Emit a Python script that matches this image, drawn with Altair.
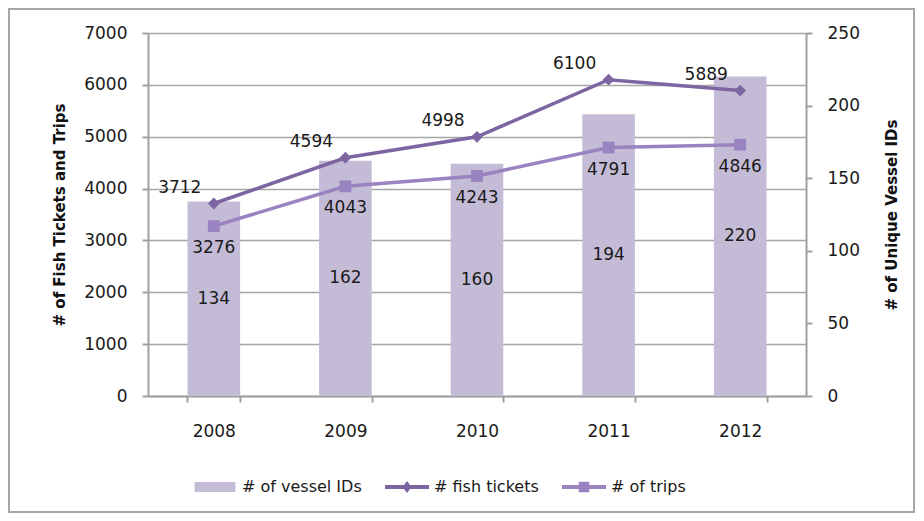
import altair as alt
import pandas as pd

years = ["2008", "2009", "2010", "2011", "2012"]
vessel_ids = [134, 162, 160, 194, 220]
fish_tickets = [3712, 4594, 4998, 6100, 5889]
trips = [3276, 4043, 4243, 4791, 4846]

series_names = ["# of vessel IDs", "# fish tickets", "# of trips"]
series_colors = ["#c4bcd6", "#7d65a1", "#9a83c1"]

FONT = "DejaVu Sans"
W, H = 658, 363

df = pd.DataFrame({
    "year": years,
    "vessels": vessel_ids,
    "tickets": fish_tickets,
    "trips": trips,
})
df["vessels_mid"] = df["vessels"] / 2

x_enc = alt.X("year:N", sort=years, title=None,
              scale=alt.Scale(paddingInner=0.6, paddingOuter=0.3),
              axis=alt.Axis(tickBand="extent", labelAngle=0, labelFontSize=17,
                            labelFont=FONT, labelColor="#1a1a1a", labelPadding=21,
                            domainColor="#a0a0a0", domainWidth=2, tickColor="#a0a0a0",
                            tickWidth=2, tickSize=6, grid=False))

base = alt.Chart(df)

# ---- bars (right axis) ----
bars = base.mark_bar(color=series_colors[0]).encode(
    x=x_enc,
    y=alt.Y("vessels:Q", scale=alt.Scale(domain=[0, 250], nice=False),
            axis=alt.Axis(orient="right", values=[0, 50, 100, 150, 200, 250], grid=False,
                          format="d",
                          title="# of Unique Vessel IDs", titleAngle=270,
                          titleFont=FONT, titleFontSize=15, titleFontWeight="bold",
                          titleColor="#111111", titlePadding=40,
                          labelFont=FONT, labelFontSize=17, labelColor="#1a1a1a",
                          labelPadding=15, domainColor="#a0a0a0", domainWidth=2,
                          tickColor="#a0a0a0", tickWidth=2, tickSize=6)),
)
bar_text = base.mark_text(font=FONT, fontSize=17, color="#1a1a1a").encode(
    x=alt.X("year:N", sort=years),
    y=alt.Y("vessels_mid:Q"),
    text=alt.Text("vessels:Q"),
)
border = alt.Chart(pd.DataFrame({"k": [0]})).mark_rect(
    fillOpacity=0, stroke="#a6a6a6", strokeWidth=2
).encode(
    x=alt.value(-139), x2=alt.value(W + 108),
    y=alt.value(-24), y2=alt.value(H + 116),
)
bar_group = alt.layer(bars, bar_text, border)

# ---- lines (left axis) ----
left_axis = alt.Axis(values=list(range(0, 7001, 1000)), grid=True, format="d",
                     gridColor="#a6a6a6", gridWidth=1.6,
                     title="# of Fish Tickets and Trips", titleAngle=270,
                     titleFont=FONT, titleFontSize=15, titleFontWeight="bold",
                     titleColor="#111111", titlePadding=16,
                     labelFont=FONT, labelFontSize=17, labelColor="#1a1a1a",
                     labelPadding=15, domainColor="#a0a0a0", domainWidth=2,
                     tickColor="#a0a0a0", tickWidth=2, tickSize=6)

fish_line = base.mark_line(color=series_colors[1], strokeWidth=3.5).encode(
    x=alt.X("year:N", sort=years),
    y=alt.Y("tickets:Q", scale=alt.Scale(domain=[0, 7000], nice=False), axis=left_axis),
)
fish_pts = base.mark_point(shape="diamond", filled=True, size=140, opacity=1,
                           color=series_colors[1]).encode(
    x=alt.X("year:N", sort=years), y="tickets:Q")
fish_text = base.mark_text(font=FONT, fontSize=17, color="#1a1a1a", dx=-34, dy=-16).encode(
    x=alt.X("year:N", sort=years), y="tickets:Q", text="tickets:Q")

trip_line = base.mark_line(color=series_colors[2], strokeWidth=3.5).encode(
    x=alt.X("year:N", sort=years), y="trips:Q")
trip_pts = base.mark_point(shape="square", filled=True, size=140, opacity=1,
                           color=series_colors[2]).encode(
    x=alt.X("year:N", sort=years), y="trips:Q")
trip_text = base.mark_text(font=FONT, fontSize=17, color="#1a1a1a", dy=22).encode(
    x=alt.X("year:N", sort=years), y="trips:Q", text="trips:Q")

# legend-only layer (draws nothing, drives the legend)
shape_paths = [
    "M-0.93,-0.23L0.93,-0.23L0.93,0.23L-0.93,0.23Z",
    "M-1,-0.09L1,-0.09L1,0.09L-1,0.09ZM0,-0.27L0.21,0L0,0.27L-0.21,0Z",
    "M-1,-0.09L1,-0.09L1,0.09L-1,0.09ZM-0.24,-0.24L0.24,-0.24L0.24,0.24L-0.24,0.24Z",
]
legend_layer = base.transform_fold(
    ["vessels", "tickets", "trips"], as_=["key", "value"]
).transform_calculate(
    series="datum.key == 'vessels' ? '# of vessel IDs' : (datum.key == 'tickets' ? '# fish tickets' : '# of trips')"
).transform_filter("false").mark_point(filled=True, opacity=1).encode(
    x=alt.X("year:N", sort=years),
    y="value:Q",
    color=alt.Color("series:N", scale=alt.Scale(domain=series_names, range=series_colors),
                    legend=alt.Legend(orient="none", legendX=45, legendY=432,
                                      direction="horizontal", title=None,
                                      labelFont=FONT, labelFontSize=16,
                                      labelColor="#1a1a1a", labelOffset=5,
                                      symbolSize=1936, symbolStrokeWidth=0,
                                      symbolOpacity=1, columnPadding=23)),
    shape=alt.Shape("series:N", scale=alt.Scale(domain=series_names, range=shape_paths)),
)

line_group = alt.layer(fish_line, trip_line, fish_pts, trip_pts, fish_text, trip_text,
                       legend_layer)

chart = alt.layer(bar_group, line_group).resolve_scale(y="independent").properties(
    width=W, height=H,
    autosize=alt.AutoSizeParams(type="none"),
    padding={"left": 140, "top": 25, "right": 110, "bottom": 117},
).configure_view(stroke=None).configure(background="white")

chart.save("out.html", embed_options={"renderer": "svg", "actions": False})
